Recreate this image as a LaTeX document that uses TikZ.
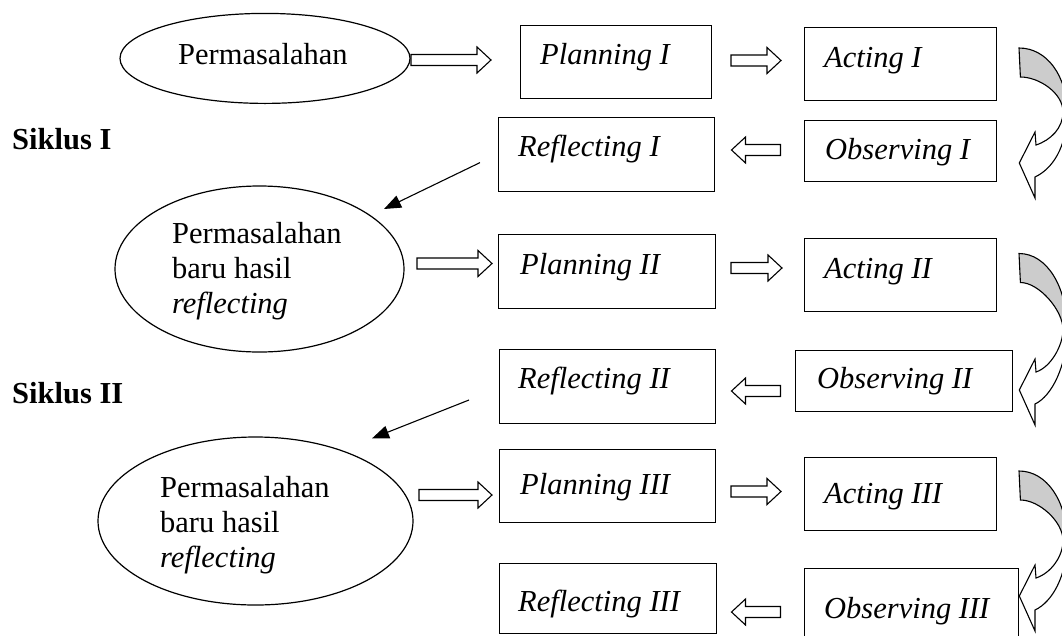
\documentclass[tikz,border=0pt]{standalone}
\usepackage{fontspec}
\setmainfont{Liberation Serif}
\usetikzlibrary{shapes.geometric,arrows.meta}
\tikzset{
  box/.style={draw, line width=1.2pt, inner sep=0pt, anchor=north west},
  ell/.style={ellipse, draw, line width=1.2pt, inner sep=0pt},
  txt/.style={anchor=base west, inner sep=0pt},
  blockarr/.style={draw, fill=white, line width=1.1pt, line join=miter},
  curvback/.style={draw, fill=gray!40, line width=1.1pt, line join=miter},
  curvfront/.style={draw, fill=white, line width=1.1pt, line join=miter},
  linearr/.style={line width=1.1pt, -{Triangle[length=17pt,width=13pt]}}
}
\newcommand\rblock[3]{%
  \draw[blockarr] (#1,{#3-5.5}) -- ({#2-14},{#3-5.5}) -- ({#2-14},{#3-13}) -- (#2,#3)
    -- ({#2-14},{#3+13}) -- ({#2-14},{#3+5.5}) -- (#1,{#3+5.5}) -- cycle;}
\newcommand\lblock[3]{%
  \draw[blockarr] (#2,{#3-5.5}) -- ({#1+14},{#3-5.5}) -- ({#1+14},{#3-13}) -- (#1,#3)
    -- ({#1+14},{#3+13}) -- ({#1+14},{#3+5.5}) -- (#2,{#3+5.5}) -- cycle;}
\newcommand\curvarrow[3]{%
  \pgfmathsetmacro\cM{0.556*#3}%
  \begin{scope}[shift={(#1,#2)}]
    \filldraw[curvback] (0,0) -- (1.4,29) .. controls (20,29) and (44,{\cM-19}) .. (44,\cM)
      -- (48,\cM) .. controls (48,{\cM*0.44}) and (28,0) .. (0,0) -- cycle;
    \filldraw[curvfront] (48,\cM) .. controls (48,{\cM+36}) and (33,{#3+6}) .. (16,{#3+14})
      -- (16,{#3+35}) -- (0.3,#3) -- (16,{#3-31}) -- (17,{#3-18})
      .. controls (32,{#3-23}) and (44,{\cM+16}) .. (44,\cM) -- cycle;
  \end{scope}}
\begin{document}
\begin{tikzpicture}[x=1pt, y=-1pt, font=\fontsize{30.5}{35}\selectfont]
\useasboundingbox (0,0) rectangle (1062,635);
\fill[white] (0,0) rectangle (1062,635);
\clip (0,0) rectangle (1062,635);

% ellipses
\node[ell, minimum width=290, minimum height=90] (E1) at (265,58.4) {};
\node[ell, minimum width=289, minimum height=166] (E2) at (259.5,269) {};
\node[ell, minimum width=315, minimum height=168] (E3) at (255.5,521) {};
\node[txt] (tE1) at (178,64) {Permasalahan};
\node[txt, align=left] (tE2) at (172,313) {Permasalahan\\baru hasil\\\textit{reflecting}};
\node[txt, align=left] (tE3) at (160,567) {Permasalahan\\baru hasil\\\textit{reflecting}};

% cycle labels
\node[txt] (S1) at (12,149) {\textbf{Siklus I}};
\node[txt] (S2) at (12,403) {\textbf{Siklus II}};

% boxes
\node[box, minimum width=191, minimum height=73] (P1) at (520,25) {};
\node[box, minimum width=192, minimum height=73] (A1) at (804,27) {};
\node[box, minimum width=216, minimum height=74] (R1) at (498,117) {};
\node[box, minimum width=192, minimum height=61] (O1) at (804,120) {};
\node[box, minimum width=217, minimum height=74] (P2) at (498,234) {};
\node[box, minimum width=192, minimum height=73] (A2) at (804,238) {};
\node[box, minimum width=216, minimum height=74] (R2) at (499,349) {};
\node[box, minimum width=217, minimum height=60.5] (O2) at (795,350) {};
\node[box, minimum width=216, minimum height=73] (P3) at (499,448.5) {};
\node[box, minimum width=192, minimum height=73] (A3) at (804,456.5) {};
\node[box, minimum width=217, minimum height=70.5] (R3) at (499,562.5) {};
\node[box, minimum width=214, minimum height=80] (O3) at (804,568) {};

% box texts
\node[txt] (tP1) at (540,64) {\textit{Planning I}};
\node[txt] (tA1) at (824,67) {\textit{Acting I}};
\node[txt] (tR1) at (518,156) {\textit{Reflecting I}};
\node[txt] (tO1) at (825,159) {\textit{Observing I}};
\node[txt] (tP2) at (520,274) {\textit{Planning II}};
\node[txt] (tA2) at (824,278) {\textit{Acting II}};
\node[txt] (tR2) at (518,388) {\textit{Reflecting II}};
\node[txt] (tO2) at (817,388) {\textit{Observing II}};
\node[txt] (tP3) at (520,494) {\textit{Planning III}};
\node[txt] (tA3) at (824,503) {\textit{Acting III}};
\node[txt] (tR3) at (518,611) {\textit{Reflecting III}};
\node[txt] (tO3) at (824,618) {\textit{Observing III}};

% block arrows
\rblock{411}{491}{60}
\rblock{731}{781}{60.5}
\lblock{731.5}{780.5}{150}
\rblock{417}{492}{263.5}
\rblock{731}{782}{268}
\lblock{731.5}{780.5}{391}
\rblock{419}{492}{495}
\rblock{731}{781}{491.5}
\lblock{731.5}{780.5}{612}

% curved arrows
\curvarrow{1019}{48}{115}
\curvarrow{1019}{253.5}{136.5}
\curvarrow{1019}{471}{125}

% reflecting -> new problem
\coordinate (s1) at ([shift={(-18,8)}]R1.west);
\coordinate (t1) at ([shift={(124.5,-60)}]E2.center);
\coordinate (s2) at ([shift={(-30,13.4)}]R2.west);
\coordinate (t2) at ([shift={(116.5,-82.6)}]E3.center);
\draw[linearr] (s1) -- (t1);
\draw[linearr] (s2) -- (t2);
\end{tikzpicture}
\end{document}
